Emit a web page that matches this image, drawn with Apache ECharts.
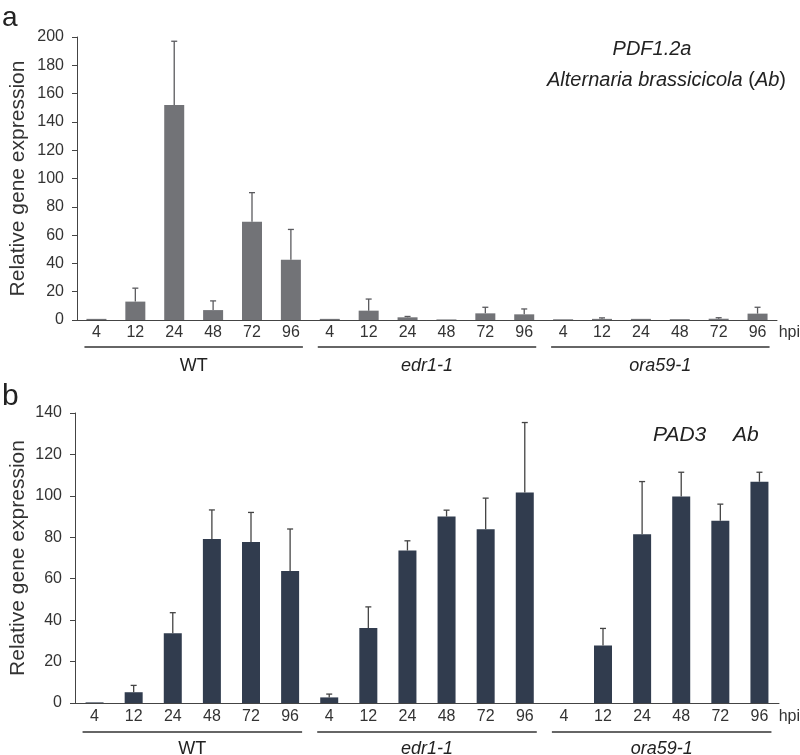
<!DOCTYPE html>
<html>
<head>
<meta charset="utf-8">
<script src="https://cdn.jsdelivr.net/npm/echarts@6/dist/echarts.min.js"></script>
<style>
html,body{margin:0;padding:0;background:#fff;}
#chart{width:800px;height:755px;}
</style>
</head>
<body>
<div id="chart"></div>
<script>
// ---- data ----
var hpiLabels = ['4','12','24','48','72','96','4','12','24','48','72','96','4','12','24','48','72','96'];
var groupNames = ['WT','edr1-1','ora59-1'];
var groupItalic = [false,true,true];
var pdfMean = [0.8,13,152,7,69.5,42.5, 0.8,6.6,1.9,0.4,4.7,4, 0.5,0.8,0.8,0.6,0.9,4.5];
var pdfSd   = [0.3,9.5,45,6.5,20.5,21.5, 0.2,8.2,0.6,0.2,4.3,3.8, 0.2,0.7,0.3,0.2,0.7,4.5];
var padMean = [0.3,5.2,33.7,79.2,77.7,63.7, 2.7,36.2,73.6,90,83.9,101.6, 0,27.7,81.5,99.7,88,106.8];
var padSd   = [0.2,3.3,9.9,14,14.3,20.3, 1.6,10.2,4.7,3.1,15,33.8, 0,8.3,25.4,11.7,8,4.6];
var yTopMax = 200, yTopStep = 20;
var yBotMax = 140, yBotStep = 20;

var FONT = "'Liberation Sans', Arial, Helvetica, sans-serif";
var chart = echarts.init(document.getElementById('chart'));

function errSeries(mean, sd, xi, color) {
  return {
    type: 'custom', xAxisIndex: xi, yAxisIndex: xi, z: 5,
    data: mean.map(function (m, i) { return [i, m, m + sd[i]]; }),
    renderItem: function (params, api) {
      var lo = api.coord([api.value(0), api.value(1)]);
      var hi = api.coord([api.value(0), api.value(2)]);
      if (Math.abs(lo[1] - hi[1]) < 0.5) return;
      var cw = 3;
      var st = { stroke: color, lineWidth: 1.3 };
      return { type: 'group', children: [
        { type: 'line', shape: { x1: lo[0], y1: lo[1], x2: hi[0], y2: hi[1] }, style: st },
        { type: 'line', shape: { x1: hi[0] - cw, y1: hi[1], x2: hi[0] + cw, y2: hi[1] }, style: st }
      ]};
    }
  };
}

function xAx(gi, margin) {
  return {
    type: 'category', gridIndex: gi, data: hpiLabels,
    axisLine: { lineStyle: { color: '#444', width: 1 } },
    axisTick: { show: false },
    axisLabel: { color: '#333', fontFamily: FONT, fontSize: 16, margin: margin, interval: 0 }
  };
}
function yAx(gi, max, step, gap) {
  return {
    type: 'value', gridIndex: gi, min: 0, max: max, interval: step,
    name: 'Relative gene expression', nameLocation: 'middle', nameGap: gap,
    nameMoveOverlap: false,
    nameTextStyle: { fontFamily: FONT, fontSize: 21, color: '#333' },
    axisLine: { show: true, lineStyle: { color: '#444', width: 1 } },
    axisTick: { show: true, length: 5, lineStyle: { color: '#444' } },
    axisLabel: { color: '#333', fontFamily: FONT, fontSize: 16, margin: 13 },
    splitLine: { show: false }
  };
}

var option = {
  backgroundColor: '#fff',
  animation: false,
  grid: [
    { left: 77, right: 23, top: 37, bottom: 435, containLabel: false, outerBoundsMode: 'none' },
    { left: 75, right: 21, top: 413, bottom: 52, containLabel: false, outerBoundsMode: 'none' }
  ],
  xAxis: [xAx(0, 5), xAx(1, 6)],
  yAxis: [yAx(0, yTopMax, yTopStep, 48), yAx(1, yBotMax, yBotStep, 46)],
  series: [
    { type: 'bar', xAxisIndex: 0, yAxisIndex: 0, data: pdfMean, barWidth: 20,
      itemStyle: { color: '#727377' } },
    errSeries(pdfMean, pdfSd, 0, '#5a5a5e'),
    { type: 'bar', xAxisIndex: 1, yAxisIndex: 1, data: padMean, barWidth: 18,
      itemStyle: { color: '#313c4e' } },
    errSeries(padMean, padSd, 1, '#444')
  ]
};
chart.setOption(option);

// layout annotations derived from axes
var g = [];
function addAnnot(gi, lineY, textY) {
  for (var k = 0; k < 3; k++) {
    var a = chart.convertToPixel({ xAxisIndex: gi }, k * 6);
    var b = chart.convertToPixel({ xAxisIndex: gi }, k * 6 + 5);
    var x1 = a - 12, x2 = b + 12;
    g.push({ type: 'line', shape: { x1: x1, y1: lineY, x2: x2, y2: lineY },
      style: { stroke: '#333', lineWidth: 1.6 } });
    g.push({ type: 'text', x: (x1 + x2) / 2, y: textY,
      style: { text: groupNames[k], font: (groupItalic[k] ? 'italic ' : '') + '18px ' + FONT,
        fill: '#222', align: 'center', verticalAlign: 'middle' } });
  }
  var by = chart.convertToPixel({ yAxisIndex: gi }, 0);
  g.push({ type: 'text', x: 800, y: by + (gi === 0 ? 13 : 14),
    style: { text: 'hpi', font: '16px ' + FONT, fill: '#333', align: 'right', verticalAlign: 'middle' } });
}
addAnnot(0, 347, 366);
addAnnot(1, 732, 749);

g.push({ type: 'text', x: 2, y: 18, style: { text: 'a', font: '28px ' + FONT, fill: '#222', verticalAlign: 'middle' } });
g.push({ type: 'text', x: 2, y: 397, style: { text: 'b', font: '30px ' + FONT, fill: '#222', verticalAlign: 'middle' } });
g.push({ type: 'text', x: 652, y: 49, style: { text: 'PDF1.2a', font: 'italic 20px ' + FONT, fill: '#222', align: 'center', verticalAlign: 'middle' } });
g.push({ type: 'text', x: 786, y: 80, style: {
  text: '{i|Alternaria brassicicola }{n|(}{i|Ab}{n|)}', align: 'right', verticalAlign: 'middle',
  rich: { i: { font: 'italic 20px ' + FONT, fill: '#222' }, n: { font: '20px ' + FONT, fill: '#222' } } } });
g.push({ type: 'text', x: 653, y: 435, style: { text: 'PAD3', font: 'italic 21px ' + FONT, fill: '#222', verticalAlign: 'middle' } });
g.push({ type: 'text', x: 733, y: 435, style: { text: 'Ab', font: 'italic 21px ' + FONT, fill: '#222', verticalAlign: 'middle' } });

chart.setOption({ graphic: g });
</script>
</body>
</html>
